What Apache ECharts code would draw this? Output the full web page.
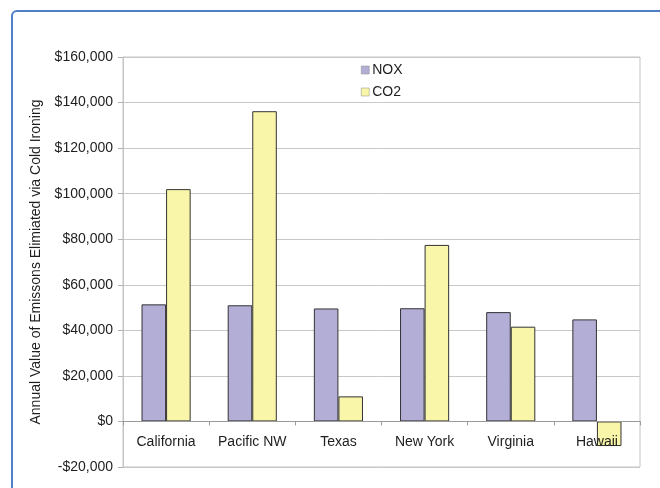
<!DOCTYPE html>
<html><head><meta charset="utf-8">
<script src="https://cdn.jsdelivr.net/npm/echarts@6/dist/echarts.min.js"></script>
<style>html,body{margin:0;padding:0;background:#fff}#c{width:660px;height:488px}</style>
</head><body><div id="c"></div>
<script>
var categories = ['California', 'Pacific NW', 'Texas', 'New York', 'Virginia', 'Hawaii'];
var noxValues = [51400, 51000, 49600, 49700, 48000, 44800];
var co2Values = [102000, 136200, 11000, 77500, 41600, -10800];
var seriesNames = ['NOX', 'CO2'];
var yTicks = [-20000, 0, 20000, 40000, 60000, 80000, 100000, 120000, 140000, 160000];
var yAxisTitle = 'Annual Value of Emissons Elimiated via Cold Ironing';

function fmt(v) {
  var s = Math.abs(v).toString().replace(/\B(?=(\d{3})+(?!\d))/g, ',');
  return (v < 0 ? '-$' : '$') + s;
}
var chart = echarts.init(document.getElementById('c'), null, {renderer: 'canvas'});
var font = 'Liberation Sans, Arial, sans-serif';
var txt = '#1e1e1e';
chart.setOption({
  animation: false,
  backgroundColor: '#ffffff',
  textStyle: {fontFamily: font},
  graphic: [{
    type: 'rect', shape: {x: 12, y: 11, width: 720, height: 540, r: 5},
    style: {fill: 'none', stroke: '#4f7fc6', lineWidth: 2}, z: -10
  }],
  grid: {left: 123, right: 20, top: 57, bottom: 21, show: true, outerBoundsMode: 'none',
    containLabel: false,
    borderColor: '#c4c4c4', borderWidth: 1, backgroundColor: 'transparent'},
  legend: {
    orient: 'vertical', left: 356, top: 58, itemWidth: 8, itemHeight: 8, itemGap: 8,
    icon: 'rect', data: seriesNames,
    itemStyle: {borderColor: '#8a8a8a', borderWidth: 0.5},
    textStyle: {fontFamily: font, fontSize: 14, color: txt, padding: [0, 0, 0, -2]}
  },
  xAxis: {
    type: 'category', data: categories, z: 5,
    axisLine: {onZero: true, lineStyle: {color: '#9a9a9a', width: 1}},
    axisTick: {show: true, length: 4, interval: 0, lineStyle: {color: '#9a9a9a'}},
    axisLabel: {fontFamily: font, fontSize: 14, color: txt, margin: -32, interval: 0}
  },
  yAxis: {
    type: 'value', min: yTicks[0], max: yTicks[yTicks.length - 1], interval: 20000,
    name: yAxisTitle, nameLocation: 'middle', nameGap: 80,
    nameTextStyle: {fontFamily: font, fontSize: 14, color: txt},
    axisLine: {show: true, lineStyle: {color: '#c4c4c4'}},
    axisTick: {show: true, length: 5, lineStyle: {color: '#b0b0b0'}},
    splitLine: {lineStyle: {color: '#c8c8c8', width: 1}},
    axisLabel: {fontFamily: font, fontSize: 14, color: txt, margin: 10, formatter: fmt}
  },
  series: [
    {name: seriesNames[0], type: 'bar', data: noxValues, barGap: '0%', barCategoryGap: '43%',
      itemStyle: {color: '#b3aed5', borderColor: '#333', borderWidth: 1}},
    {name: seriesNames[1], type: 'bar', data: co2Values, barGap: '0%', barCategoryGap: '43%',
      itemStyle: {color: '#faf6a9', borderColor: '#333', borderWidth: 1}}
  ]
});
</script></body></html>
